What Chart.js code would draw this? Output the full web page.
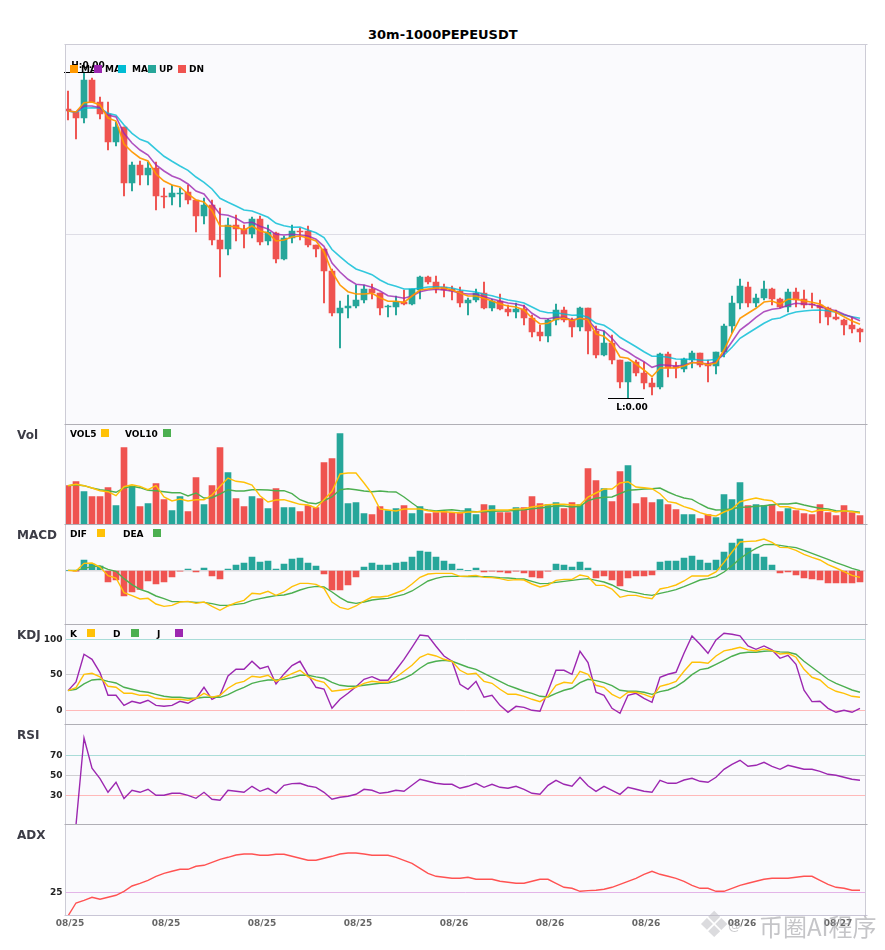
<!DOCTYPE html>
<html>
<head>
<meta charset="utf-8">
<title>30m-1000PEPEUSDT</title>
<script src="https://cdn.jsdelivr.net/npm/chart.js@4/dist/chart.umd.min.js"></script>
<style>
  html, body { margin: 0; padding: 0; background: #fff; }
  body { position: relative; width: 885px; height: 950px; overflow: hidden; font-family: "DejaVu Sans", sans-serif; }
  canvas { position: absolute; left: 0; }
  .txt { position: absolute; white-space: nowrap; font-weight: bold; transform: translateY(-50%); }
  .box { position: absolute; width: 8px; height: 8px; }
</style>
</head>
<body>
<script>
// Prices have no readable scale in the picture (H/L both print 0.00), so they stay in relative units
const opens = [
  315, 312, 306, 344, 322, 310, 282, 297, 241, 259, 249, 256, 228, 227, 230, 232, 224, 208, 219, 184,
  175, 199, 195, 190, 205, 183, 191, 165, 186, 193, 193, 179, 175, 153, 111, 116, 118, 124, 135, 131,
  117, 117, 122, 120, 134, 147, 142, 137, 135, 133, 121, 124, 131, 116, 123, 115, 112, 115, 106, 92,
  88, 104, 114, 104, 97, 116, 93, 69, 81, 64, 42, 62, 51, 41, 37, 70, 58, 55, 64, 71,
  60, 58, 72, 98, 121, 137, 121, 126, 135, 125, 117, 132, 125, 120, 119, 116, 107, 104, 99, 95
];
const highs = [
  333, 312, 352, 346, 327, 322, 302, 297, 262, 263, 262, 262, 236, 239, 236, 239, 224, 226, 224, 216,
  206, 209, 199, 207, 208, 199, 192, 188, 199, 196, 198, 179, 175, 155, 123, 129, 139, 139, 140, 131,
  119, 128, 134, 135, 148, 148, 148, 140, 138, 137, 126, 135, 142, 125, 130, 119, 121, 119, 109, 99,
  105, 120, 117, 106, 117, 116, 98, 93, 89, 64, 62, 64, 62, 46, 71, 72, 62, 66, 73, 71,
  64, 72, 100, 128, 145, 142, 130, 143, 136, 126, 135, 136, 134, 131, 124, 117, 114, 105, 107, 96
];
const lows = [
  304, 285, 301, 322, 305, 274, 278, 228, 233, 239, 239, 214, 216, 219, 217, 220, 192, 200, 179, 147,
  169, 183, 176, 186, 179, 179, 161, 164, 181, 184, 177, 167, 121, 108, 76, 106, 116, 121, 125, 109,
  107, 109, 119, 119, 125, 140, 131, 127, 124, 117, 109, 122, 115, 113, 114, 108, 106, 99, 87, 83,
  82, 99, 102, 87, 93, 70, 66, 68, 60, 36, 26, 48, 35, 29, 35, 47, 46, 52, 56, 57,
  42, 50, 67, 91, 115, 117, 117, 124, 119, 116, 112, 117, 116, 116, 101, 99, 104, 89, 91, 82
];
const closes = [
  313, 306, 344, 322, 310, 282, 297, 241, 259, 249, 256, 228, 227, 231, 231, 224, 208, 219, 184, 175,
  199, 195, 190, 205, 182, 192, 165, 186, 193, 192, 179, 175, 153, 111, 116, 118, 124, 135, 131, 116,
  118, 122, 120, 135, 147, 142, 135, 134, 133, 121, 124, 131, 116, 123, 115, 112, 115, 106, 92, 88,
  104, 114, 104, 97, 116, 93, 69, 81, 64, 42, 62, 51, 41, 37, 70, 56, 56, 65, 71, 59,
  58, 72, 98, 121, 138, 121, 126, 135, 125, 117, 132, 124, 119, 119, 116, 107, 105, 99, 95, 92
];
const ma1 = [
  313, 312, 321.3, 322, 319, 306, 303, 280, 272, 266, 263, 250, 243, 239, 237, 230, 224, 222, 213.3, 198,
  198, 197, 194, 198, 193, 191, 183, 184, 187, 188, 186, 183, 172, 152, 139, 132.3, 130, 130, 130.7, 126.3,
  122.7, 122.7, 121.7, 128, 134, 135, 136, 136, 134, 131, 128, 128, 125.7, 123, 120, 118, 117, 114, 106, 100,
  100.7, 105, 106, 103.3, 105.7, 104, 90, 87.7, 80.7, 67, 65.7, 60, 54, 47.3, 56, 56, 56, 58, 61.3, 61.3,
  59.3, 61, 74, 90.7, 105.7, 110.7, 115.7, 122, 123, 120, 124.7, 124.7, 123.3, 121.7, 120, 115, 111.7, 107.3, 103, 99.7
];
const ma2 = [
  313, 312, 318, 318, 316.3, 309, 307, 290.7, 281, 274, 269, 259, 253, 248, 245, 240, 233, 230, 220, 209.7,
  208.7, 205.7, 201, 201.7, 197.7, 195, 189.7, 189, 189.7, 189, 188, 184.7, 177.7, 161, 152, 144.7, 139.7, 139, 136.7, 133,
  128.3, 127.3, 125.7, 128, 132.3, 134, 134.7, 134, 133, 130.7, 130, 130, 127.3, 125, 123, 121, 120, 118, 110.7, 105.7,
  105.3, 106.7, 106.7, 104, 105.7, 104, 95, 93, 85.7, 76.3, 72, 66.7, 62.3, 56.7, 59.3, 58.7, 58, 58.7, 61.7, 60.7,
  60.3, 62, 70.7, 82.3, 94, 100, 106.7, 112.3, 114.7, 115.7, 118.7, 120.7, 120, 119.7, 117.3, 115, 113.3, 109.7, 106.7, 103.3
];
const ma3 = [
  313, 311.7, 315.7, 316.3, 316, 310.7, 308.7, 299, 290.7, 284.7, 281.7, 274.7, 267.7, 262.7, 258, 253.7, 247, 241.7, 235, 225.7,
  221.7, 218, 214, 213, 210, 206.7, 200.7, 198.3, 196.7, 197, 194, 191.3, 186.5, 174.5, 167.3, 160.7, 155, 152.3, 149.3, 144,
  140, 137.7, 135, 135, 135.7, 137, 137.3, 136.7, 136, 134, 133, 132, 129.7, 128.3, 126, 124, 122.7, 121, 117, 113,
  111.3, 111.3, 110, 108.7, 109, 106.7, 100.7, 98.7, 93.7, 86.7, 82, 77.3, 72.3, 67.7, 67.7, 66.7, 65, 64.7, 64.7, 64,
  63.7, 64.7, 69, 76.7, 85.7, 90.7, 95.7, 100.7, 104.7, 106, 109.7, 112, 113, 113.7, 114, 113.3, 111.7, 109, 107.3, 105.7
];

const volumes = [
  38.3, 42.3, 32.3, 27.3, 27.3, 36.3, 18.3, 76.3, 37.3, 17.3, 20.3, 40.3, 24.3, 13.3, 27.3, 12.3, 46.3, 19.3, 38.3, 76.3,
  51.3, 25.3, 17.3, 27.3, 25.3, 15.3, 35.3, 16.3, 16.3, 12.3, 18.3, 16.3, 61.3, 65.3, 90.3, 20.3, 21.3, 10.3, 9.3, 17.3,
  13.3, 15.3, 18.3, 10.3, 17.3, 10.3, 11.3, 12.3, 11.3, 11.3, 15.3, 9.3, 19.3, 18.3, 11.3, 11.3, 16.3, 16.3, 27.3, 20.3,
  19.3, 21.3, 15.3, 21.3, 19.3, 55.3, 43.3, 35.3, 22.3, 52.3, 58.3, 20.3, 26.3, 21.3, 24.3, 19.3, 14.3, 9.3, 9.3, 5.3,
  9.3, 6.3, 29.3, 24.3, 41.3, 18.3, 19.3, 18.3, 19.3, 12.3, 15.3, 13.3, 10.3, 9.3, 19.3, 11.3, 8.3, 18.3, 11.3, 8.3
];
const vol5 = [
  38.3, 39.7, 38.3, 36, 33.3, 32.3, 28.3, 37.3, 39.3, 37.7, 34.3, 38.3, 27, 23, 25, 23, 24.3, 24.3, 29, 37.7,
  46, 42.7, 41.7, 39, 28.3, 22, 24, 24.3, 22, 19.7, 19, 16, 24.3, 32.7, 50, 51, 51, 41, 30.3, 15,
  14, 13, 15, 15, 15, 13.3, 12.3, 12.3, 11.7, 11, 12, 12, 13.3, 14, 14, 14, 15, 15.3, 17, 18.3,
  19.3, 19.7, 19.7, 19, 19, 27, 31, 35, 35, 41, 42.3, 37, 36.3, 35.3, 30.3, 22.3, 21, 17.3, 15, 11.3,
  9, 8, 12, 15, 22.3, 24.3, 26, 24.3, 23.3, 17.3, 17.3, 15.3, 14.3, 12, 14, 13.7, 12, 13.3, 12.3, 11
];
const vol10 = [
  38.3, 39.3, 38.3, 36, 34.3, 33.3, 31.7, 36, 37.7, 36.3, 33.7, 33.3, 32.3, 31.3, 31.3, 28, 31, 26, 26.3, 30,
  34.3, 33, 33, 34.3, 34.3, 34, 33.3, 33.3, 30.3, 24.3, 21.3, 20.3, 23.3, 27, 34.3, 35.3, 34.3, 33, 32.3, 33,
  32.3, 32, 27, 21, 15.3, 14, 13, 13.7, 14.3, 13.3, 12.7, 12.3, 12.3, 12.7, 13, 13, 13.7, 14.3, 15.3, 16,
  17, 18.3, 18, 17, 17.7, 23.3, 25.7, 26.7, 27, 30.3, 33.7, 34.3, 35, 35.3, 36, 32, 28.7, 26, 24.7, 20,
  16, 14, 14.3, 15.3, 16.7, 17, 17.7, 18.3, 19.3, 20, 20, 21, 19, 17.3, 15.7, 15, 13.3, 12.7, 12.7, 11.7
];

const macdHist = [
  0, -1, 31, 19, 13, -35, -29, -77, -65, -57, -32, -41, -35, -20, -2, 4, -5, 7, -17, -26,
  4, 16, 22, 40, 25, 28, 4, 19, 34, 37, 22, 13, -11, -59, -59, -44, -20, 10, 22, 16,
  16, 22, 25, 40, 58, 55, 40, 28, 19, 4, 0, 7, -5, -2, -5, -8, -2, -8, -20, -23,
  -2, 19, 16, 10, 25, 7, -23, -17, -29, -47, -23, -17, -17, -14, 25, 28, 28, 37, 43, 31,
  22, 31, 55, 82, 94, 67, 49, 40, 16, -8, -5, -14, -23, -26, -29, -38, -38, -38, -38, -35
];
const dif = [
  0, -2, 21, 22, 10, -16, -23, -67, -76, -86, -84, -101, -108, -105, -95, -93, -99, -95, -108, -120,
  -107, -97, -90, -69, -71, -63, -75, -65, -49, -39, -39, -42, -54, -95, -111, -117, -107, -92, -80, -80,
  -77, -68, -59, -41, -21, -11, -9, -9, -9, -18, -17, -15, -21, -22, -25, -30, -28, -29, -41, -50,
  -44, -30, -27, -27, -14, -19, -45, -45, -56, -81, -75, -75, -81, -85, -56, -51, -44, -32, -17, -17,
  -17, -5, 24, 55, 85, 87, 88, 94, 84, 69, 68, 60, 48, 39, 31, 17, 7, -4, -15, -21
];
const dea = [
  0, 0, 6, 11, 13, 3, -3, -25, -43, -57, -65, -77, -85, -94, -94, -94, -96, -96, -100, -105,
  -105, -102, -99, -90, -85, -80, -76, -74, -68, -59, -52, -48, -50, -65, -82, -95, -99, -95, -89, -86,
  -84, -78, -72, -62, -47, -32, -24, -19, -18, -18, -19, -19, -19, -20, -22, -23, -25, -26, -33, -40,
  -39, -36, -33, -30, -27, -25, -30, -35, -44, -57, -63, -67, -72, -75, -69, -64, -58, -49, -39, -29,
  -25, -19, -5, 14, 35, 52, 66, 77, 78, 75, 71, 68, 60, 51, 42, 33, 23, 15, 6, -1
];

const kValues = [
  27.7, 31.9, 50.7, 52.1, 47, 33.8, 32.4, 23.9, 23.9, 21.1, 21.1, 16.9, 15.5, 15.5, 15.5, 14.1, 16.9, 23.9, 18.3, 21.1,
  31, 38, 40.8, 47.9, 46.5, 49.3, 40.8, 46.5, 51.6, 56.3, 47.4, 42.3, 39.4, 26.8, 28.2, 29.6, 32.4, 38, 40.8, 39.4,
  39.4, 46.5, 54.9, 63.4, 74.7, 79.3, 76.5, 71.8, 69, 56.3, 50.7, 52.1, 40.8, 38, 29.6, 22.5, 22.5, 19.7, 15.5, 12.2,
  19.7, 35.2, 39.4, 38, 54.9, 50.7, 35.2, 32.4, 22.5, 16.9, 25.4, 25.4, 22.5, 18.3, 33.8, 36.6, 40.8, 54.9, 67.6, 67.6,
  66.2, 76.5, 83.6, 85.9, 88.7, 85, 83.6, 86.4, 84, 79.3, 80.3, 74.7, 57.7, 46.5, 42.7, 32.4, 26.8, 23.9, 19.7, 18.3
];
const dValues = [
  27.7, 29.6, 37.1, 42.7, 43.7, 40.8, 38.5, 32.4, 29.6, 26.8, 25.4, 22.5, 19.7, 18.3, 18.3, 16.9, 16.9, 18.3, 18.3, 18.3,
  22.1, 27.7, 32.4, 38, 40.8, 42.7, 42.7, 43.7, 46, 49.3, 49.3, 47, 45.1, 39.4, 35.2, 33.8, 33.8, 35.2, 36.6, 38,
  38.5, 40.8, 45.1, 50.7, 59.2, 66.2, 69, 70.4, 69, 64.8, 60.6, 57.7, 52.1, 46.5, 40.8, 35.2, 31, 26.8, 23.9, 19.7,
  18.8, 23.9, 28.2, 31, 39, 43.7, 41.8, 39, 34.7, 28.2, 26.8, 26.8, 25.4, 22.5, 26.3, 28.6, 33.3, 40.8, 50.2, 57.3,
  59.2, 64.8, 70.4, 76.1, 80.3, 81.7, 81.7, 83.1, 83.6, 82.2, 81.7, 78.9, 69, 60.6, 52.1, 43.7, 38, 33.3, 28.6, 25.4
];
const jValues = [
  27.7, 39.9, 78.9, 71.8, 53.1, 21.1, 21.1, 7, 12.7, 9.9, 14.1, 7, 5.6, 7, 12.7, 9.9, 16.4, 32.4, 15.5, 21.1,
  48.4, 57.7, 57.7, 69, 58.7, 62, 37.1, 51.2, 62.9, 69, 49.8, 32.4, 30, 2.8, 15.5, 23.9, 33.3, 43.7, 47.4, 42.3,
  42.3, 56.8, 71.8, 88.7, 106.1, 104.7, 90.1, 76.5, 69, 36.6, 29.6, 40.8, 18.3, 21.1, 7, -2.8, 5.6, 4.2, 0, -1.4,
  26.8, 56.3, 56.3, 50.7, 83.1, 67.1, 25.4, 21.1, 2.8, -4.2, 21.1, 23.9, 16.9, 11.3, 46.5, 50.7, 53.5, 80.3, 104.7, 93,
  80.3, 99, 108.5, 107, 104.7, 90.6, 85.9, 90.6, 85, 73.2, 77.5, 64.8, 28.2, 12.2, 12.7, 2.8, -2.8, 0, -2.8, 2.8
];

const rsiValues = [
  0, 0.5, 87.3, 57, 46.7, 33, 43, 26.7, 35, 33, 36, 30, 30, 32, 32, 30, 27, 33, 26, 25,
  35, 34, 33, 39, 34, 37, 32, 40, 41.7, 42, 39.3, 38, 33, 26, 28, 29, 31, 36, 35, 32,
  33, 35, 34, 40, 46, 44, 42, 41, 41, 37, 39, 42, 38, 41, 38, 37, 39, 36, 32, 31,
  40, 45, 41, 39, 48, 39.5, 34, 39, 35, 31, 38, 36, 34, 33, 45, 42, 42, 45.3, 47, 44,
  43, 48, 56, 61, 65, 59, 60, 63, 59, 56, 60, 58, 56, 56, 54, 51, 50, 48, 46, 45
];
const adxValues = [
  1.3, 14.3, 17, 20, 18, 20, 22, 26, 31.3, 34, 37, 41, 44, 46, 48, 48, 51, 52, 55, 58,
  60, 62.3, 63.3, 63.3, 62, 62, 63, 63, 61, 59, 57, 57, 59, 61, 63.3, 64.3, 64.3, 63.3, 62, 62,
  62, 60, 57, 54, 49, 44, 41, 40, 39, 39, 40, 38, 38, 38, 36, 35, 34, 34, 36, 38,
  38, 34, 30, 29, 26, 26.7, 27, 28, 30, 33, 36, 39, 43, 46, 43, 41, 39, 36, 32, 29,
  29, 26, 26, 29, 32, 34, 36, 38, 39, 39, 39, 40, 41, 41, 37, 33, 30, 29, 27, 27
];

const xTickPositions = [0, 12, 24, 36, 48, 60, 72, 84, 96];
const xTickLabels = ['08/25', '08/25', '08/25', '08/25', '08/26', '08/26', '08/26', '08/26', '08/27'];

const UP = '#26a69a';
const DN = '#ef5350';
const YELLOW = '#ffc107';
const GREEN = '#4caf50';
const PURPLE = '#9c27b0';
const BG = '#fafafd';
const SEP = '#b0afb6';
const EDGE = '#cdccd6';

const isUp = opens.map((o, i) => closes[i] >= o);
const toPoints = arr => arr.map((v, i) => ({ x: i, y: v }));
const upDn = isUp.map(u => (u ? UP : DN));

function line(values, color, width) {
  return {
    type: 'line', data: toPoints(values), borderColor: color, borderWidth: width || 1.4,
    pointRadius: 0, tension: 0, order: 0
  };
}

// Panel background and border lines
const framePlugin = {
  id: 'frame',
  beforeDraw(chart, args, opts) {
    const a = chart.chartArea;
    chart.ctx.fillStyle = BG;
    chart.ctx.fillRect(a.left, a.top, a.right - a.left, a.bottom - a.top);
  },
  afterDraw(chart, args, opts) {
    const a = chart.chartArea;
    const ctx = chart.ctx;
    ctx.save();
    ctx.lineWidth = 1;
    ctx.strokeStyle = EDGE;
    ctx.beginPath();
    ctx.moveTo(a.left, a.top); ctx.lineTo(a.left, a.bottom);
    ctx.moveTo(a.right, a.top); ctx.lineTo(a.right, a.bottom);
    ctx.stroke();
    ctx.strokeStyle = opts.topColor;
    ctx.beginPath();
    ctx.moveTo(a.left - 1, a.top + 0.5); ctx.lineTo(a.right + 2, a.top + 0.5);
    ctx.stroke();
    if (opts.bottomColor) {
      ctx.strokeStyle = opts.bottomColor;
      ctx.beginPath();
      ctx.moveTo(a.left - 1, a.bottom + 0.5); ctx.lineTo(a.right + 2, a.bottom + 0.5);
      ctx.stroke();
    }
    ctx.restore();
  }
};

// High and low markers on the main panel
const extremePlugin = {
  id: 'extremes',
  afterDatasetsDraw(chart) {
    if (chart.canvas.id !== 'mainChart') return;
    const ctx = chart.ctx;
    const xs = chart.scales.x;
    const ys = chart.scales.y;
    const hi = highs.indexOf(Math.max(...highs));
    const lo = lows.indexOf(Math.min(...lows));
    ctx.save();
    ctx.strokeStyle = '#000';
    ctx.fillStyle = '#000';
    ctx.lineWidth = 1;
    ctx.font = 'bold 9px "DejaVu Sans"';
    ctx.textAlign = 'center';
    ctx.textBaseline = 'middle';
    [[hi, highs[hi], 'H:0.00', -7], [lo, lows[lo], 'L:0.00', 9]].forEach(([i, v, label, dy]) => {
      const x = xs.getPixelForValue(i);
      const y = Math.round(ys.getPixelForValue(v)) + 0.5;
      ctx.beginPath();
      ctx.moveTo(x - 20, y);
      ctx.lineTo(x + 16, y);
      ctx.stroke();
      ctx.fillText(label, x + 4, y + dy);
    });
    ctx.restore();
  }
};

function makePanel(cfg) {
  const canvas = document.createElement('canvas');
  canvas.id = cfg.id;
  canvas.width = 885;
  canvas.height = cfg.height + 2 + (cfg.showX ? 16 : 0);
  canvas.style.top = (cfg.top - 1) + 'px';
  document.body.appendChild(canvas);

  const gridColors = cfg.grid || {};
  return new Chart(canvas, {
    type: 'bar',
    data: { datasets: cfg.datasets },
    plugins: [framePlugin, extremePlugin],
    options: {
      responsive: false,
      animation: false,
      devicePixelRatio: 1,
      layout: { padding: { left: 0, right: 19.5, top: 1, bottom: 1 } },
      plugins: {
        legend: { display: false },
        tooltip: { enabled: false },
        frame: { topColor: cfg.topColor || SEP, bottomColor: cfg.bottomColor }
      },
      scales: {
        x: {
          type: 'linear',
          offset: false,
          display: !!cfg.showX,
          min: -0.3125,
          max: 99.6875,
          grid: { display: false, drawTicks: false },
          border: { display: false },
          afterBuildTicks: axis => { axis.ticks = xTickPositions.map(v => ({ value: v })); },
          afterFit: axis => {
            axis.height = cfg.showX ? 16 : 0;
            axis.paddingLeft = 0;
            axis.paddingRight = 0;
          },
          ticks: {
            autoSkip: false, maxRotation: 0, minRotation: 0, padding: 3, labelOffset: 2,
            color: '#666', font: { size: 9, weight: 'bold' },
            callback: (v, i) => xTickLabels[i]
          }
        },
        y: {
          min: cfg.min,
          max: cfg.max,
          grid: {
            drawTicks: false,
            color: c => gridColors[c.tick.value] || 'transparent',
            lineWidth: cfg.gridWidth || 1
          },
          border: { display: false },
          afterBuildTicks: axis => { axis.ticks = (cfg.ticks || []).map(v => ({ value: v })); },
          afterFit: axis => { axis.width = 65.5; axis.paddingTop = 0; axis.paddingBottom = 0; },
          ticks: {
            autoSkip: false, padding: 3, color: '#222', font: { size: 9, weight: 'bold' },
            callback: v => (cfg.labelTicks ? String(v) : '')
          }
        }
      }
    }
  });
}

function addText(text, x, y, size, color) {
  const d = document.createElement('div');
  d.className = 'txt';
  d.textContent = text;
  d.style.left = x + 'px';
  d.style.top = y + 'px';
  d.style.fontSize = size + 'px';
  d.style.color = color || '#000';
  document.body.appendChild(d);
  return d;
}

function addBox(color, x, y) {
  const d = document.createElement('div');
  d.className = 'box';
  d.style.background = color;
  d.style.left = x + 'px';
  d.style.top = y + 'px';
  document.body.appendChild(d);
}

Chart.defaults.font.family = '"DejaVu Sans", sans-serif';

makePanel({
  id: 'mainChart', top: 44, height: 380, min: 0, max: 380,
  ticks: [190], grid: { 190: '#dedde6' }, topColor: EDGE,
  datasets: [
    line(ma1, 'rgba(255,152,0,0.95)', 1.6),
    line(ma2, 'rgba(156,39,176,0.8)', 1.6),
    line(ma3, 'rgba(0,188,212,0.8)', 1.6),
    {
      data: opens.map((o, i) => ({ x: i, y: [o, closes[i]] })),
      backgroundColor: upDn, barThickness: 6, grouped: false, order: 1
    },
    {
      data: lows.map((l, i) => ({ x: i, y: [l, highs[i]] })),
      backgroundColor: upDn, barThickness: 1.3, grouped: false, order: 2
    }
  ]
});

makePanel({
  id: 'volChart', top: 424, height: 100, min: 0, max: 100,
  datasets: [
    line(vol5, YELLOW),
    line(vol10, GREEN),
    { data: toPoints(volumes), backgroundColor: upDn, barThickness: 6, order: 1 }
  ]
});

makePanel({
  id: 'macdChart', top: 524, height: 100, min: -161, max: 139,
  ticks: [0], grid: { 0: '#dcdce0' }, gridWidth: 1.5,
  datasets: [
    line(dif, YELLOW),
    line(dea, GREEN),
    { data: toPoints(macdHist), backgroundColor: macdHist.map(v => (v >= 0 ? UP : DN)), barThickness: 6, order: 1 }
  ]
});

makePanel({
  id: 'kdjChart', top: 624, height: 100, min: -19.3, max: 121.5, labelTicks: true,
  ticks: [100, 50, 0], grid: { 100: '#a9dcd8', 50: '#cfcfd2', 0: '#ffb9b9' },
  datasets: [line(kValues, YELLOW), line(dValues, GREEN), line(jValues, PURPLE)]
});

makePanel({
  id: 'rsiChart', top: 724, height: 100, min: 1.3, max: 101.3, labelTicks: true,
  ticks: [70, 50, 30], grid: { 70: '#a9dcd8', 50: '#cfcfd2', 30: '#ffb9b9' },
  datasets: [line(rsiValues, PURPLE)]
});

makePanel({
  id: 'adxChart', top: 824, height: 91, min: 2.3, max: 93.3, labelTicks: true, showX: true,
  ticks: [25], grid: { 25: '#e3b5e8' }, bottomColor: '#c9c6d6',
  datasets: [line(adxValues, '#ff5252')]
});

addText('30m-1000PEPEUSDT', 368, 34, 13);

// Main legend: the boxes sit on top of the text, as in the original
addText('MA', 81, 69, 9); addText('MA', 105, 69, 9); addText('MA', 132, 69, 9);
addText('UP', 159, 69, 9); addText('DN', 189, 69, 9);
addBox('#ff9800', 70, 65); addBox(PURPLE, 94, 65); addBox('#00bcd4', 118, 65);
addBox(UP, 148, 65); addBox(DN, 178, 65);

addText('Vol', 17, 435, 12, '#3c3c46');
addText('VOL5', 70, 433.5, 9); addBox(YELLOW, 101, 429);
addText('VOL10', 125, 433.5, 9); addBox(GREEN, 163, 429);

addText('MACD', 17, 535, 12, '#3c3c46');
addText('DIF', 70, 534, 9); addBox(YELLOW, 97, 529);
addText('DEA', 123, 534, 9); addBox(GREEN, 153, 529);

addText('KDJ', 17, 635, 12, '#3c3c46');
addText('K', 70, 633.5, 9); addBox(YELLOW, 87, 629);
addText('D', 113, 633.5, 9); addBox(GREEN, 131, 629);
addText('J', 157, 633.5, 9); addBox(PURPLE, 175, 629);

addText('RSI', 17, 735, 12, '#3c3c46');
addText('ADX', 17, 835, 12, '#3c3c46');

// Watermark in the lower right corner
const mark = addText('币圈AI程序', 759, 925, 24, 'rgba(150,150,155,0.55)');
mark.style.fontFamily = '"Noto Sans CJK SC", sans-serif';
mark.style.fontWeight = 'normal';
const at = addText('@', 728, 925, 13, 'rgba(150,150,155,0.5)');
at.style.fontWeight = 'normal';
const logo = addText('❖', 698, 924, 36, 'rgba(190,190,195,0.55)');
logo.style.fontWeight = 'normal';
</script>
</body>
</html>
